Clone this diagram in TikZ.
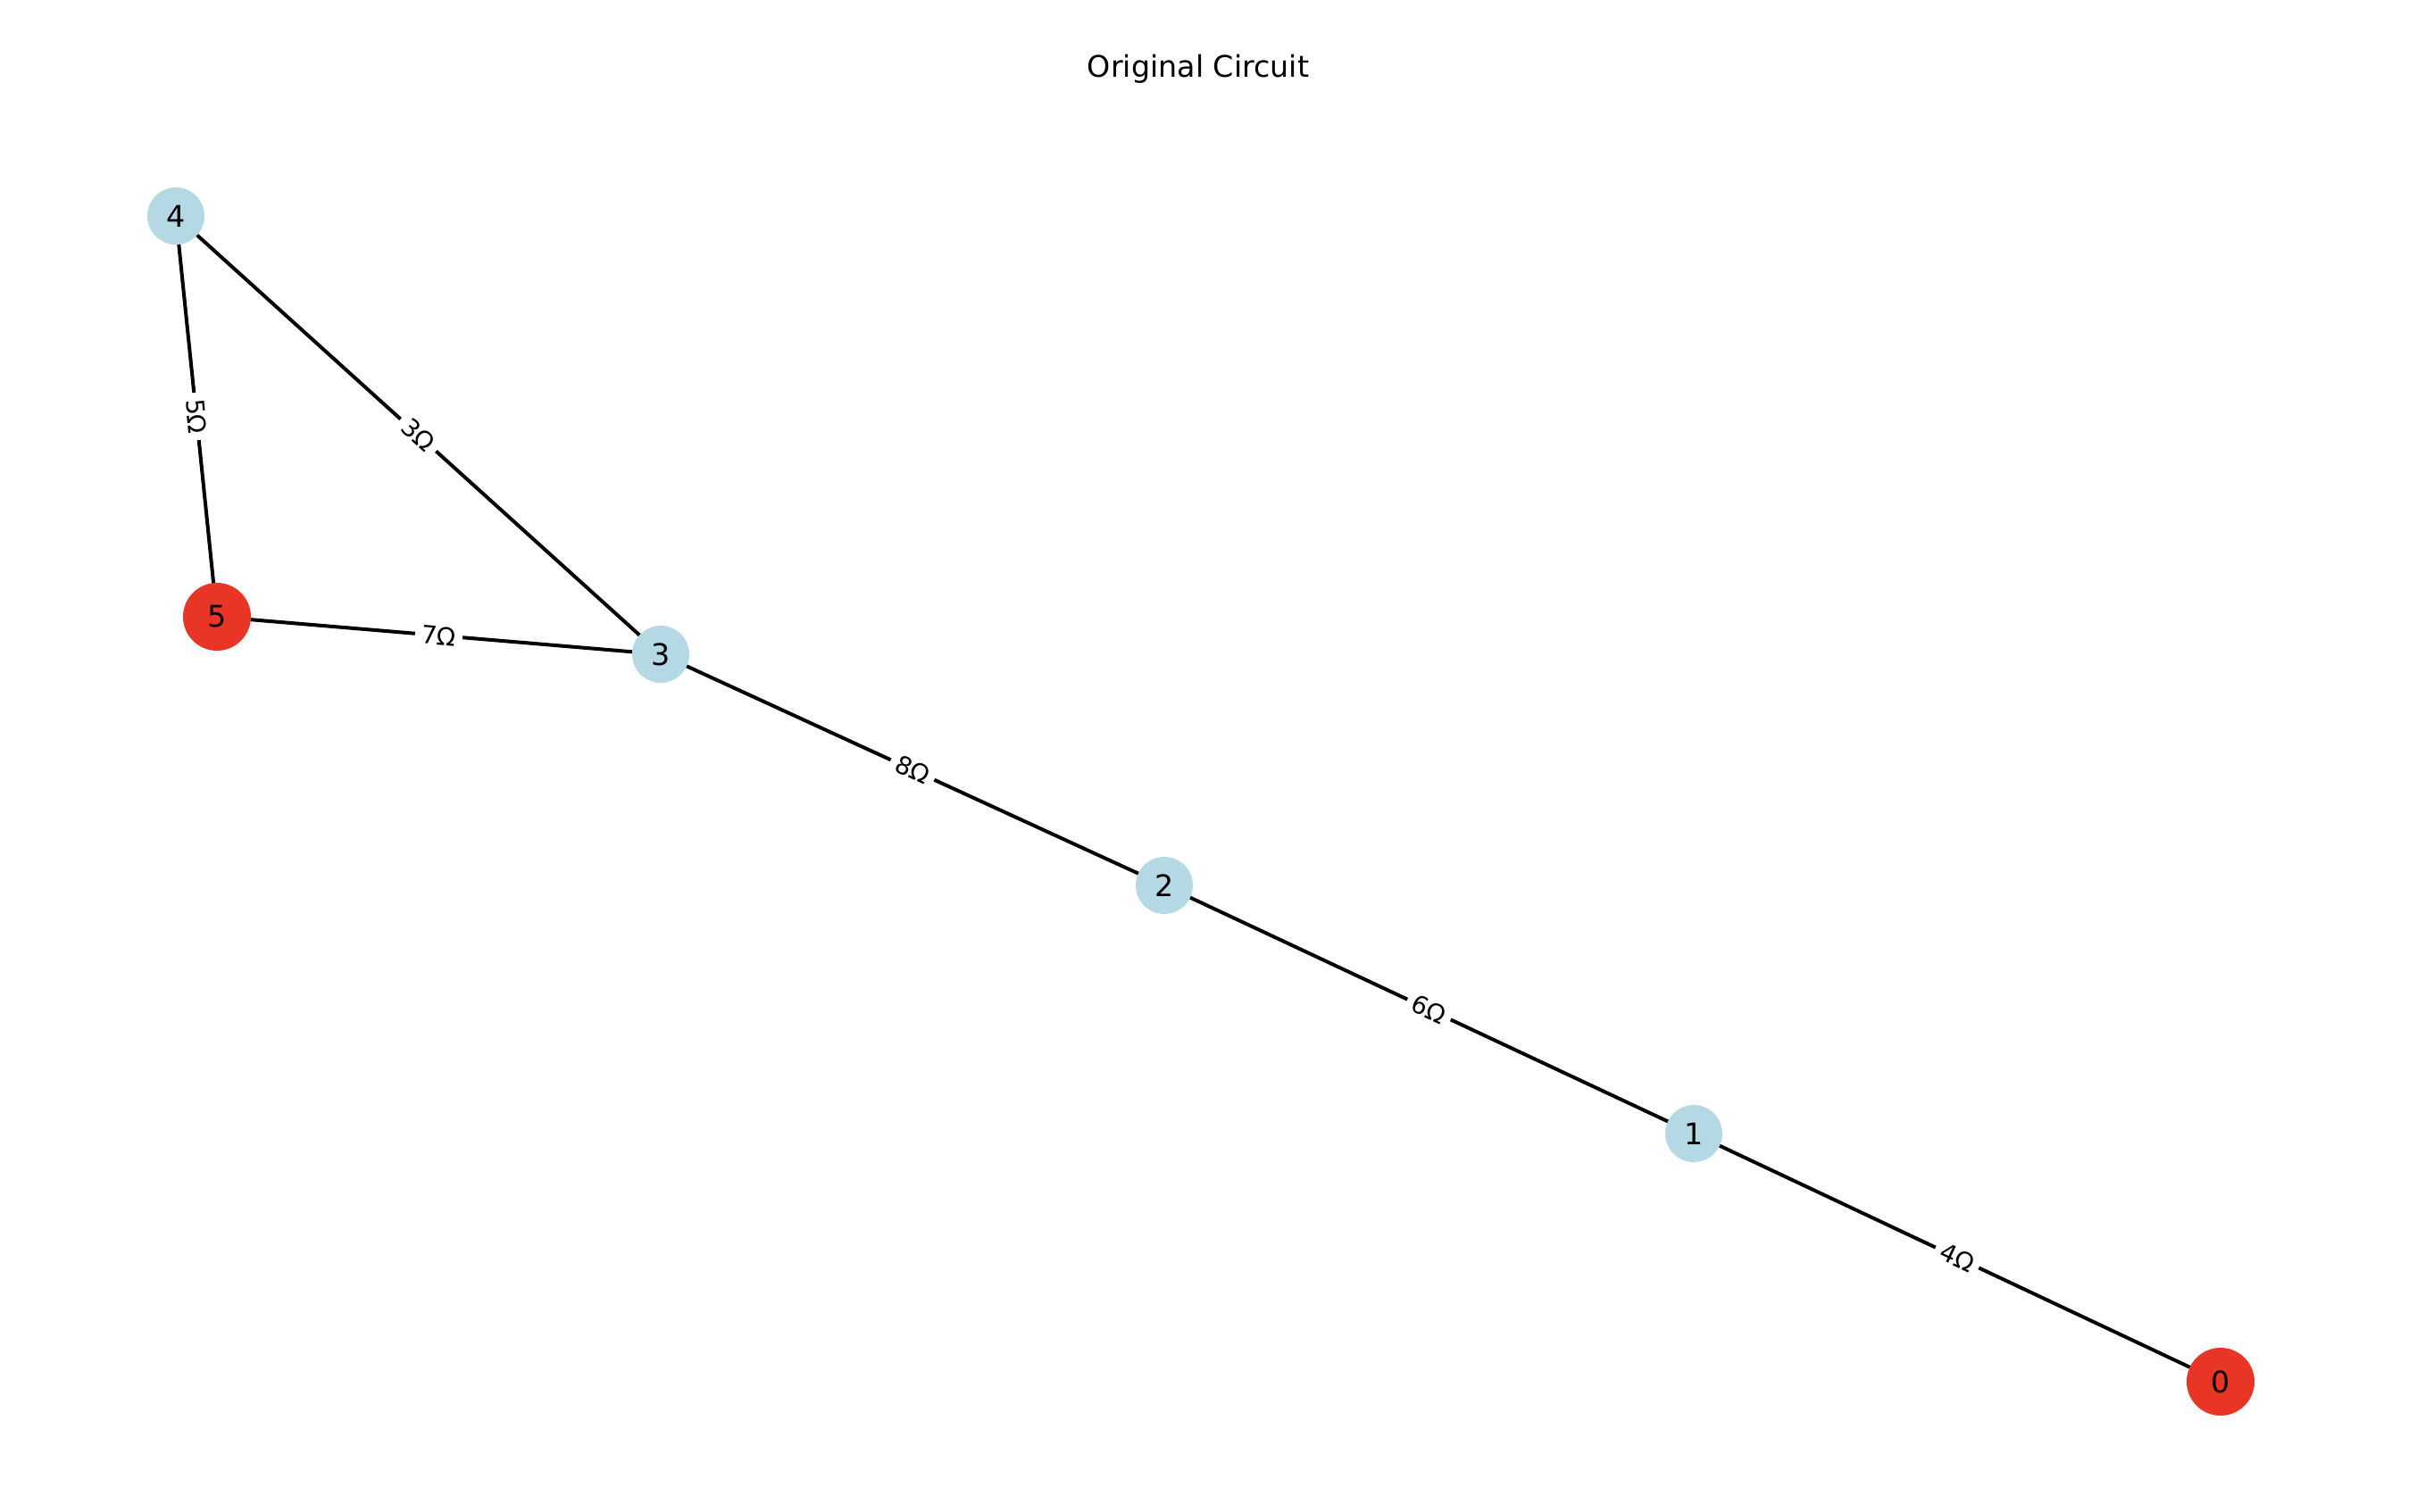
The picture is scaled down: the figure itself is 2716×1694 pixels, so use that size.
\documentclass[tikz,border=0pt]{standalone}
\usepackage{fontspec}
\setmainfont{DejaVu Sans}
\usetikzlibrary{backgrounds}
\definecolor{nodeblue}{RGB}{181,217,228}
\definecolor{nodered}{RGB}{233,53,38}
\newlength{\unitpx}
\setlength{\unitpx}{0.36pt}
\tikzset{
  bluenode/.style={circle, fill=nodeblue, minimum size=64\unitpx, inner sep=0pt, font=\fontsize{12}{14}\selectfont},
  rednode/.style={circle, fill=nodered, minimum size=76\unitpx, inner sep=0pt, font=\fontsize{12}{14}\selectfont},
  wire/.style={line width=4\unitpx, black},
  wlabel/.style={midway, sloped, fill=white, inner xsep=2.6pt, inner ysep=1.5pt, font=\fontsize{10}{12}\selectfont}
}
\begin{document}
\begin{tikzpicture}[x=0.36pt, y=-0.36pt]
\useasboundingbox (0,0) rectangle (2716,1694);
\node[anchor=base, font=\fontsize{12}{14}\selectfont] (title) at (1342,87) {Original Circuit};
\node[bluenode] (n4) at (197,242) {4};
\node[rednode]  (n5) at (243,691) {5};
\node[bluenode] (n3) at (740,733) {3};
\node[bluenode] (n2) at (1304,992) {2};
\node[bluenode] (n1) at (1897,1270) {1};
\node[rednode]  (n0) at (2487,1548) {0};
\begin{scope}[on background layer]
\draw[wire] (n4.center) -- node[wlabel] {5Ω} (n5.center);
\draw[wire] (n4.center) -- node[wlabel] {3Ω} (n3.center);
\draw[wire] (n5.center) -- node[wlabel] {7Ω} (n3.center);
\draw[wire] (n3.center) -- node[wlabel] {8Ω} (n2.center);
\draw[wire] (n2.center) -- node[wlabel] {6Ω} (n1.center);
\draw[wire] (n1.center) -- node[wlabel] {4Ω} (n0.center);
\end{scope}
\end{tikzpicture}
\end{document}
